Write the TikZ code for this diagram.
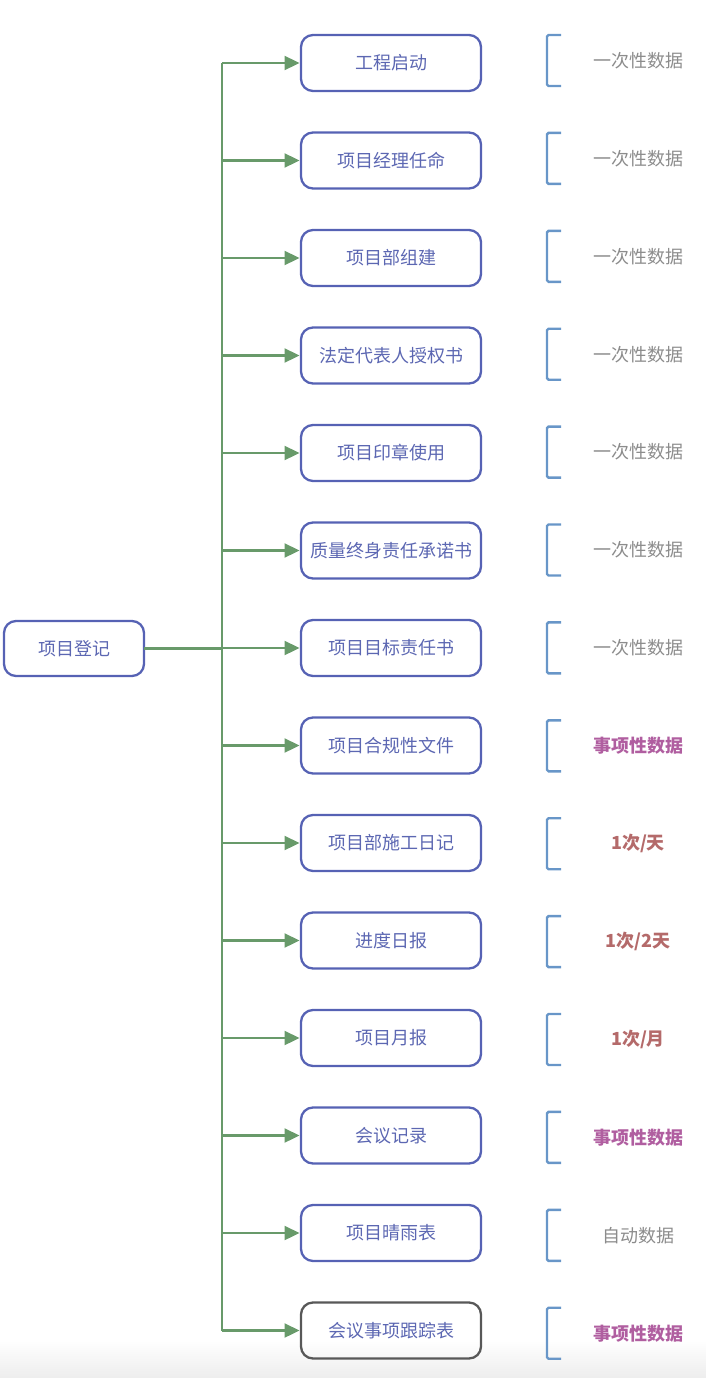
\documentclass[tikz,border=0pt]{standalone}
\usepackage{fontspec}
\setmainfont{Noto Sans CJK SC}
\usetikzlibrary{positioning,arrows.meta}

\definecolor{boxblue}{RGB}{86,98,180}
\definecolor{textblue}{RGB}{92,103,178}
\definecolor{linkgreen}{RGB}{104,154,106}
\definecolor{bracketblue}{RGB}{104,150,200}
\definecolor{infogray}{RGB}{140,140,140}
\definecolor{eventpurple}{RGB}{176,94,160}
\definecolor{ratered}{RGB}{180,106,106}
\definecolor{darkedge}{RGB}{88,88,88}

\begin{document}
\begin{tikzpicture}[
  x=1pt, y=-1pt,
  node distance=41.5pt,
  stepbox/.style={
    draw=boxblue,
    line width=2.3pt,
    rounded corners=12pt,
    minimum width=180pt,
    minimum height=56pt,
    inner sep=2pt,
    outer sep=0pt,
    text=textblue,
    font=\fontsize{18}{20}\selectfont
  },
  rootbox/.style={
    stepbox,
    minimum width=140pt,
    minimum height=55pt
  },
  link/.style={draw=linkgreen, line width=2.3pt},
  arrow/.style={link, -{Triangle[length=15pt,width=14pt]}, shorten >=1.5pt},
  bracket/.style={draw=bracketblue, line width=2.4pt, rounded corners=1.5pt},
  info/.style={font=\fontsize{18}{20}\selectfont, text=infogray},
  event/.style={font=\fontsize{18}{20}\selectfont\bfseries, text=eventpurple},
  rate/.style={font=\fontsize{18}{20}\selectfont\bfseries, text=ratered}
]

\useasboundingbox (0,0) rectangle (706,1378);
\shade[top color=white, bottom color=black!7] (0,1340) rectangle (706,1378);

% --------------------
% Root
% --------------------
\node[rootbox] (register) at (74,648.5) {项目登记};
\coordinate (trunk) at (222,648.5);

% --------------------
% Items
% --------------------
\node[stepbox] (start) at (391,63) {工程启动};
\node[stepbox, below=of start] (manager) {项目经理任命};
\node[stepbox, below=of manager] (team) {项目部组建};
\node[stepbox, below=of team] (proxy) {法定代表人授权书};
\node[stepbox, below=of proxy] (seal) {项目印章使用};
\node[stepbox, below=of seal] (quality) {质量终身责任承诺书};
\node[stepbox, below=of quality] (target) {项目目标责任书};
\node[stepbox, below=of target] (compliance) {项目合规性文件};
\node[stepbox, below=of compliance] (diary) {项目部施工日记};
\node[stepbox, below=of diary] (progress) {进度日报};
\node[stepbox, below=of progress] (monthly) {项目月报};
\node[stepbox, below=of monthly] (meeting) {会议记录};
\node[stepbox, below=of meeting] (weather) {项目晴雨表};
\node[stepbox, draw=darkedge, below=of weather] (track) {会议事项跟踪表};

% --------------------
% Arrows
% --------------------
\draw[link] (register) -- (trunk);
\draw[link] (trunk |- start) -- (trunk |- track);
\draw[arrow] (trunk |- start) -- (start);
\draw[arrow] (trunk |- manager) -- (manager);
\draw[arrow] (trunk |- team) -- (team);
\draw[arrow] (trunk |- proxy) -- (proxy);
\draw[arrow] (trunk |- seal) -- (seal);
\draw[arrow] (trunk |- quality) -- (quality);
\draw[arrow] (trunk |- target) -- (target);
\draw[arrow] (trunk |- compliance) -- (compliance);
\draw[arrow] (trunk |- diary) -- (diary);
\draw[arrow] (trunk |- progress) -- (progress);
\draw[arrow] (trunk |- monthly) -- (monthly);
\draw[arrow] (trunk |- meeting) -- (meeting);
\draw[arrow] (trunk |- weather) -- (weather);
\draw[arrow] (trunk |- track) -- (track);

% --------------------
% Data frequency
% --------------------
\node[info] (startinfo) at (638,60.5) {一次性数据};
\node[info] (managerinfo) at ([yshift=-97.9pt]startinfo) {一次性数据};
\node[info] (teaminfo) at ([yshift=-97.9pt]managerinfo) {一次性数据};
\node[info] (proxyinfo) at ([yshift=-97.9pt]teaminfo) {一次性数据};
\node[info] (sealinfo) at ([yshift=-97.9pt]proxyinfo) {一次性数据};
\node[info] (qualityinfo) at ([yshift=-97.9pt]sealinfo) {一次性数据};
\node[info] (targetinfo) at ([yshift=-97.9pt]qualityinfo) {一次性数据};
\node[event] (complianceinfo) at ([yshift=-97.9pt]targetinfo) {事项性数据};
\node[rate] (diaryinfo) at ([yshift=-97.9pt]complianceinfo) {1次/天};
\node[rate] (progressinfo) at ([yshift=-97.9pt]diaryinfo) {1次/2天};
\node[rate] (monthlyinfo) at ([yshift=-97.9pt]progressinfo) {1次/月};
\node[event] (meetinginfo) at ([yshift=-97.9pt]monthlyinfo) {事项性数据};
\node[info] (weatherinfo) at ([yshift=-97.9pt]meetinginfo) {自动数据};
\node[event] (trackinfo) at ([yshift=-97.9pt]weatherinfo) {事项性数据};

% --------------------
% Brackets
% --------------------
\draw[bracket] ([xshift=-77pt,yshift=25.5pt]startinfo.center) -- ++(-14,0) -- ++(0,51) -- ++(14,0);
\draw[bracket] ([xshift=-77pt,yshift=25.5pt]managerinfo.center) -- ++(-14,0) -- ++(0,51) -- ++(14,0);
\draw[bracket] ([xshift=-77pt,yshift=25.5pt]teaminfo.center) -- ++(-14,0) -- ++(0,51) -- ++(14,0);
\draw[bracket] ([xshift=-77pt,yshift=25.5pt]proxyinfo.center) -- ++(-14,0) -- ++(0,51) -- ++(14,0);
\draw[bracket] ([xshift=-77pt,yshift=25.5pt]sealinfo.center) -- ++(-14,0) -- ++(0,51) -- ++(14,0);
\draw[bracket] ([xshift=-77pt,yshift=25.5pt]qualityinfo.center) -- ++(-14,0) -- ++(0,51) -- ++(14,0);
\draw[bracket] ([xshift=-77pt,yshift=25.5pt]targetinfo.center) -- ++(-14,0) -- ++(0,51) -- ++(14,0);
\draw[bracket] ([xshift=-77pt,yshift=25.5pt]complianceinfo.center) -- ++(-14,0) -- ++(0,51) -- ++(14,0);
\draw[bracket] ([xshift=-77pt,yshift=25.5pt]diaryinfo.center) -- ++(-14,0) -- ++(0,51) -- ++(14,0);
\draw[bracket] ([xshift=-77pt,yshift=25.5pt]progressinfo.center) -- ++(-14,0) -- ++(0,51) -- ++(14,0);
\draw[bracket] ([xshift=-77pt,yshift=25.5pt]monthlyinfo.center) -- ++(-14,0) -- ++(0,51) -- ++(14,0);
\draw[bracket] ([xshift=-77pt,yshift=25.5pt]meetinginfo.center) -- ++(-14,0) -- ++(0,51) -- ++(14,0);
\draw[bracket] ([xshift=-77pt,yshift=25.5pt]weatherinfo.center) -- ++(-14,0) -- ++(0,51) -- ++(14,0);
\draw[bracket] ([xshift=-77pt,yshift=25.5pt]trackinfo.center) -- ++(-14,0) -- ++(0,51) -- ++(14,0);

\end{tikzpicture}
\end{document}
